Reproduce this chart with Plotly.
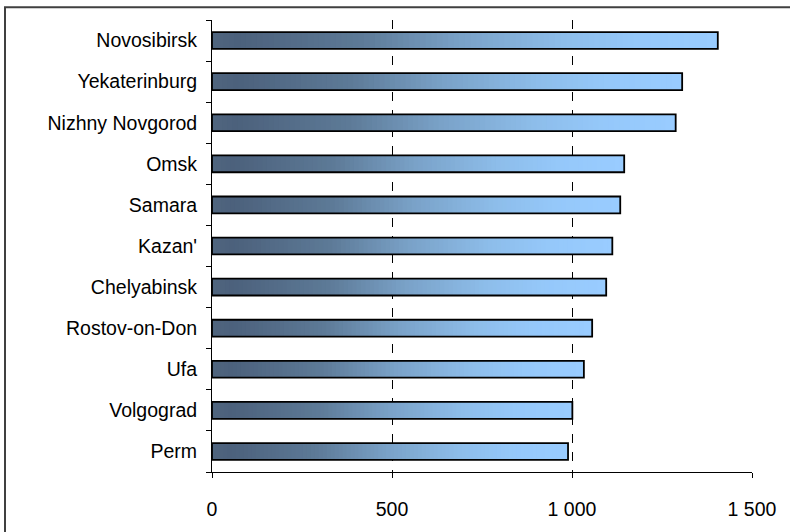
import plotly.graph_objects as go
from plotly.colors import sample_colorscale

# City values (top to bottom as displayed)
cities = ["Novosibirsk", "Yekaterinburg", "Nizhny Novgorod", "Omsk", "Samara",
          "Kazan'", "Chelyabinsk", "Rostov-on-Don", "Ufa", "Volgograd", "Perm"]
values = [1405, 1306, 1288, 1145, 1134, 1112, 1095, 1056, 1033, 1001, 989]

x_ticks = [0, 500, 1000, 1500]

# Horizontal gradient used to fill each bar (dark slate -> light sky blue)
bar_gradient = [
    [0.00, "#50667f"],
    [0.06, "#4c617c"],
    [0.30, "#5d7a97"],
    [0.50, "#7aa2c8"],
    [0.70, "#8dbdea"],
    [0.85, "#95c8fa"],
    [1.00, "#99ccff"],
]

STEPS = 90
fig = go.Figure()

# Gradient: overlapping bars from the full length down to the shortest slice,
# each one drawn with the colour of its end position along the bar.
for k in range(STEPS):
    frac = (STEPS - k) / STEPS
    color = sample_colorscale(bar_gradient, [frac], colortype="rgb")[0]
    fig.add_trace(go.Bar(
        y=cities,
        x=[v * frac for v in values],
        orientation="h",
        marker=dict(color=color, line=dict(width=0)),
        hoverinfo="skip",
        showlegend=False,
    ))

# Black outline on top of the gradient
fig.add_trace(go.Bar(
    y=cities,
    x=values,
    orientation="h",
    marker=dict(color="rgba(0,0,0,0)", line=dict(color="black", width=1.8)),
    showlegend=False,
))

fig.update_layout(
    width=790,
    height=532,
    margin=dict(l=212, r=38, t=20, b=51),
    paper_bgcolor="white",
    plot_bgcolor="white",
    barmode="overlay",
    bargap=0.59,
    separators=". ",
    font=dict(family="Liberation Sans, Arial, sans-serif", size=19.5, color="black"),
    xaxis=dict(
        range=[0, 1500],
        tickvals=x_ticks,
        tickformat=",d",
        showgrid=True,
        gridcolor="black",
        gridwidth=1,
        griddash="dash",
        zeroline=False,
        showline=True,
        linecolor="black",
        linewidth=1,
        ticks="outside",
        ticklen=5,
        tickcolor="black",
        ticklabelstandoff=15,
    ),
    yaxis=dict(
        categoryorder="array",
        categoryarray=cities[::-1],
        showgrid=False,
        zeroline=False,
        showline=True,
        linecolor="black",
        linewidth=1,
        ticks="outside",
        tickson="boundaries",
        ticklen=5,
        tickcolor="black",
        ticklabelstandoff=10,
    ),
    shapes=[dict(
        type="rect", xref="paper", yref="paper",
        x0=(5 - 212) / 540, x1=1.2,
        y0=-0.3, y1=(481 - 7) / 461,
        line=dict(color="#404040", width=2),
        fillcolor="rgba(0,0,0,0)",
        layer="below",
    )],
)

fig.write_html("out.html")
